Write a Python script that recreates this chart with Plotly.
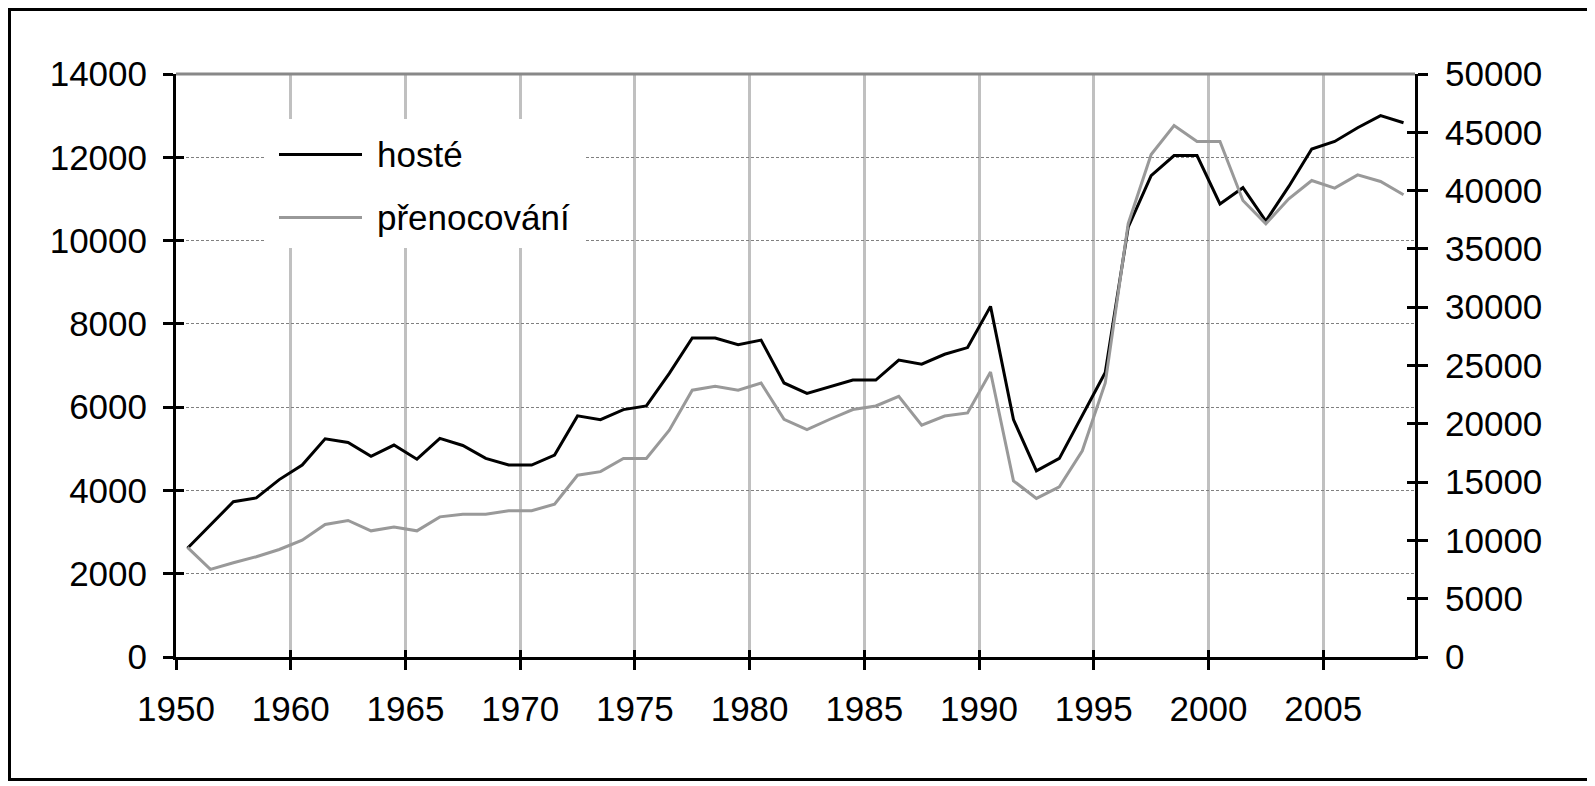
import plotly.graph_objects as go

# data (yearly values)
years = list(range(1955, 2009))
hoste = [2610, 3170, 3730, 3820, 4260, 4610, 5240, 5150, 4820, 5090,
         4750, 5250, 5080, 4770, 4610, 4610, 4850, 5790, 5700, 5940,
         6030, 6810, 7660, 7660, 7500, 7610, 6580, 6330, 6490, 6650,
         6650, 7130, 7030, 7270, 7430, 8420, 5700, 4470, 4770, 5810,
         6830, 10320, 11560, 12040, 12040, 10880, 11270, 10470, 11300, 12200,
         12380, 12710, 13000, 12830]
prenocovani = [9400, 7510, 8080, 8600, 9220, 10020, 11370, 11710, 10820, 11140,
               10820, 12020, 12250, 12250, 12540, 12540, 13110, 15590, 15900, 17020,
               17020, 19450, 22880, 23220, 22880, 23500, 20390, 19510, 20390, 21220,
               21530, 22360, 19880, 20670, 20930, 24440, 15110, 13600, 14590, 17680,
               23500, 37160, 43090, 45580, 44210, 44210, 39150, 37160, 39300, 40870,
               40210, 41350, 40780, 39640]
x_tick_text = ["1950", "1960", "1965", "1970", "1975", "1980",
               "1985", "1990", "1995", "2000", "2005"]
series_names = ["hosté", "přenocování"]

# page is 1595x786, the browser puts the figure 8px in from the top-left
OFF = 8
W, H = 1595 - OFF, 786 - OFF
ML, MR, MT, MB = 176 - OFF, 180, 74 - OFF, 129
FONT = "Liberation Sans, Arial, sans-serif"
FS = 35


def px_x(px):
    # page pixel -> paper x
    return (px - OFF - ML) / (W - ML - MR)


def px_y(py):
    # page pixel -> paper y
    return (H - MB - (py - OFF)) / (H - MT - MB)


x_tickvals = [y - 0.5 for y in range(1955, 2006, 5)]
x_range = [years[0] - 0.5, years[-1] + 0.5]

fig = go.Figure()
fig.add_trace(go.Scatter(x=years, y=hoste, name=series_names[0], mode="lines",
                         line=dict(color="black", width=3), showlegend=False))
fig.add_trace(go.Scatter(x=years, y=prenocovani, name=series_names[1], mode="lines",
                         yaxis="y2", line=dict(color="#999999", width=3),
                         showlegend=False))
# empty traces so the overlay axes (inner half of the crossing ticks) get drawn
fig.add_trace(go.Scatter(x=[], y=[], xaxis="x2", yaxis="y3", showlegend=False,
                         hoverinfo="skip"))
fig.add_trace(go.Scatter(x=[], y=[], xaxis="x2", yaxis="y4", showlegend=False,
                         hoverinfo="skip"))

tick_style = dict(tickcolor="black", tickwidth=3)

fig.update_layout(
    width=W, height=H,
    margin=dict(l=ML, r=MR, t=MT, b=MB, pad=0),
    paper_bgcolor="white", plot_bgcolor="white",
    font=dict(family=FONT, size=FS, color="black"),
    xaxis=dict(range=x_range, tickmode="array", tickvals=x_tickvals,
               ticktext=x_tick_text, ticks="outside", ticklen=10,
               showline=True, linecolor="black", linewidth=3,
               showgrid=True, gridcolor="#c0c0c0", gridwidth=3,
               zeroline=False, ticklabelstandoff=9, **tick_style),
    xaxis2=dict(range=x_range, overlaying="x", anchor="y", side="bottom",
                tickmode="array", tickvals=x_tickvals, ticks="inside", ticklen=7,
                showticklabels=False, showline=False, showgrid=False,
                zeroline=False, **tick_style),
    yaxis=dict(range=[0, 14000], dtick=2000, tickformat="d", ticks="outside",
               ticklen=10, showline=True, linecolor="black", linewidth=3,
               showgrid=True, gridcolor="#808080", gridwidth=1, griddash="3px,2px",
               zeroline=False, ticklabelstandoff=9, **tick_style),
    yaxis3=dict(range=[0, 14000], dtick=2000, overlaying="y", side="left",
                anchor="x", ticks="inside", ticklen=8, showticklabels=False,
                showline=False, showgrid=False, zeroline=False, **tick_style),
    yaxis2=dict(range=[0, 50000], dtick=5000, tickformat="d", overlaying="y",
                side="right", anchor="x", ticks="outside", ticklen=10,
                showline=True, linecolor="black", linewidth=3,
                showgrid=False, zeroline=False, ticklabelstandoff=10, **tick_style),
    yaxis4=dict(range=[0, 50000], dtick=5000, overlaying="y", side="right",
                anchor="x", ticks="inside", ticklen=8, showticklabels=False,
                showline=False, showgrid=False, zeroline=False, **tick_style),
)

shapes = [
    # outer chart frame (right side runs off the page)
    dict(type="rect", xref="paper", yref="paper",
         x0=px_x(9.5), x1=px_x(1605), y0=px_y(779.5), y1=px_y(9.5),
         line=dict(color="black", width=3), fillcolor="rgba(0,0,0,0)", layer="above"),
    # top edge of plot area
    dict(type="line", xref="paper", yref="paper", x0=0, x1=1, y0=1, y1=1,
         line=dict(color="#888888", width=3), layer="above"),
    # legend box
    dict(type="rect", xref="paper", yref="paper",
         x0=px_x(265), x1=px_x(586), y0=px_y(248), y1=px_y(119),
         line=dict(width=0), fillcolor="white", layer="above"),
    dict(type="line", xref="paper", yref="paper",
         x0=px_x(279), x1=px_x(362), y0=px_y(154.5), y1=px_y(154.5),
         line=dict(color="black", width=3), layer="above"),
    dict(type="line", xref="paper", yref="paper",
         x0=px_x(279), x1=px_x(362), y0=px_y(217.5), y1=px_y(217.5),
         line=dict(color="#999999", width=3), layer="above"),
]
annotations = [
    dict(text=series_names[0], xref="paper", yref="paper", x=px_x(375), y=px_y(154.5),
         xanchor="left", yanchor="middle", showarrow=False,
         font=dict(family=FONT, size=FS, color="black")),
    dict(text=series_names[1], xref="paper", yref="paper", x=px_x(375), y=px_y(217.5),
         xanchor="left", yanchor="middle", showarrow=False,
         font=dict(family=FONT, size=FS, color="black")),
]
fig.update_layout(shapes=shapes, annotations=annotations)

fig.write_html("out.html")
